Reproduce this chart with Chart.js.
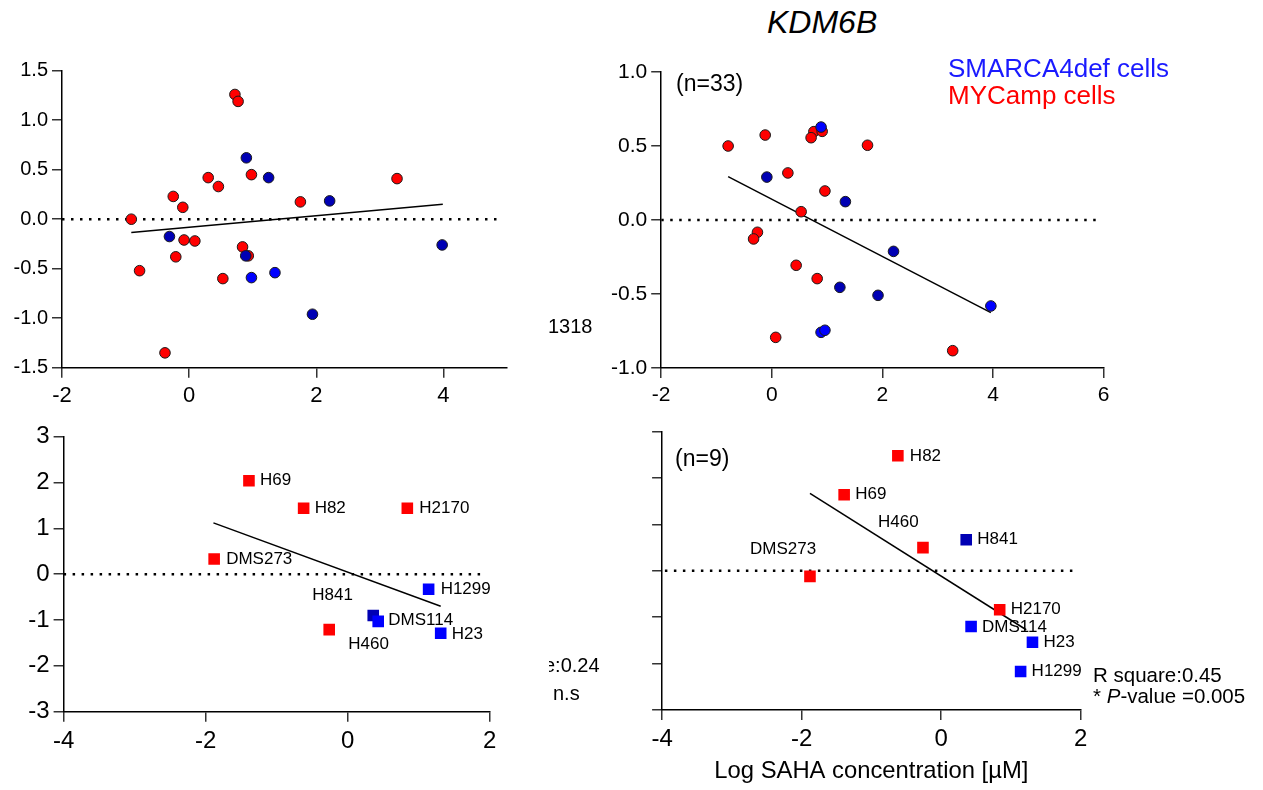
<!DOCTYPE html>
<html>
<head>
<meta charset="utf-8">
<script src="https://cdn.jsdelivr.net/npm/chart.js@4.4.1/dist/chart.umd.min.js"></script>
<style>
  body { margin: 0; background: #fff; width: 1263px; height: 790px; overflow: hidden; position: relative;
         font-family: "Liberation Sans", Arial, sans-serif; }
  canvas { position: absolute; }
  .t { position: absolute; white-space: nowrap; line-height: 1; color: #000; }
</style>
</head>
<body>
<canvas id="pA" width="540" height="370" style="left:0;top:50px"></canvas>
<canvas id="pB" width="540" height="370" style="left:590px;top:50px"></canvas>
<canvas id="pC" width="540" height="380" style="left:0;top:410px"></canvas>
<canvas id="pD" width="540" height="380" style="left:590px;top:410px"></canvas>

<div class="t" style="left:767px;top:6px;font-size:32px;font-style:italic">KDM6B</div>
<div class="t" style="left:676px;top:72px;font-size:23px">(n=33)</div>
<div class="t" style="left:948px;top:55px;font-size:26px;color:#1a1aff">SMARCA4def cells</div>
<div class="t" style="left:948px;top:82px;font-size:26px;color:#ff0000">MYCamp cells</div>
<div class="t" style="left:548px;top:316px;font-size:20px">1318</div>
<div class="t" style="left:549px;top:655px;width:52px;overflow:hidden;font-size:20px"><span style="margin-left:-5px">e:0.24</span></div>
<div class="t" style="left:553px;top:683px;font-size:20px">n.s</div>
<div class="t" style="left:675px;top:447px;font-size:23px">(n=9)</div>
<div class="t" style="left:1093px;top:665px;font-size:20.5px">R square:0.45</div>
<div class="t" style="left:1093px;top:686px;font-size:20.5px">* <i>P</i>-value =0.005</div>

<script>
// top left panel
const aRedX  = [-0.91, -0.78, -0.25, -0.10, -0.21, -0.08, 0.09, -0.38, 0.30, 0.46, 0.53, 0.72, 0.77, 0.98, 0.84, 0.93, 1.75, 3.27];
const aRedY  = [0.00, -0.52, 0.23, 0.12, -0.38, -0.21, -0.22, -1.35, 0.42, 0.33, -0.60, 1.26, 1.19, 0.45, -0.28, -0.37, 0.175, 0.41];
const aNavyX = [-0.31, 0.90, 1.25, 0.89, 1.94, 2.21, 3.98];
const aNavyY = [-0.175, 0.62, 0.42, -0.37, -0.96, 0.185, -0.26];
const aBlueX = [0.98, 1.35];
const aBlueY = [-0.59, -0.54];
const aFitX  = [-0.91, 3.99];
const aFitY  = [-0.135, 0.15];
const aZeroX = [-2, 4.9];

// top right panel
const bRedX  = [-0.79, -0.12, 0.29, 0.76, 0.71, 0.91, 1.73, 0.96, 0.53, -0.26, -0.33, 0.44, 0.82, 0.07, 3.27];
const bRedY  = [0.50, 0.574, 0.318, 0.597, 0.556, 0.599, 0.505, 0.196, 0.056, -0.083, -0.128, -0.306, -0.396, -0.793, -0.883];
const bNavyX = [-0.09, 1.33, 2.20, 1.23, 1.92];
const bNavyY = [0.29, 0.124, -0.212, -0.455, -0.509];
const bBlueX = [0.89, 3.96, 0.89, 0.96];
const bBlueY = [0.628, -0.581, -0.759, -0.745];
const bFitX  = [-0.79, 3.96];
const bFitY  = [0.293, -0.626];
const bZeroX = [-2, 5.9];

// bottom panels: cell lines vs log SAHA concentration
const cellLines = ['H69', 'H82', 'H2170', 'DMS273', 'H460', 'H1299', 'H841', 'DMS114', 'H23'];
const cellType  = ['MYCamp', 'MYCamp', 'MYCamp', 'MYCamp', 'MYCamp', 'SMARCA4def', 'SMARCA4def', 'SMARCA4def', 'SMARCA4def'];
const logSaha   = [-1.39, -0.62, 0.84, -1.88, -0.26, 1.14, 0.36, 0.43, 1.31];
const cValues   = [2.04, 1.44, 1.44, 0.33, -1.21, -0.33, -0.90, -1.03, -1.29];
const dValues   = [1.64, 2.48, -0.84, -0.12, 0.50, -2.17, 0.67, -1.20, -1.54];
const cFitX  = [-1.89, 1.31];
const cFitY  = [1.12, -0.70];
const cZeroX = [-4, 1.92];
const dFitX  = [-1.88, 1.22];
const dFitY  = [1.67, -1.27];
const dZeroX = [-3.96, 1.92];

const FONT = '"Liberation Sans", Arial, sans-serif';
const RED = '#ff0000', BLUE = '#0000ff', NAVY = '#0000b4';

// where each cell line name sits relative to its square: [dx, dy] in px
const cOffsets = { H69: [11, 0], H82: [11, 0], H2170: [12, 0], DMS273: [12, 0], H1299: [12, 0],
                   H841: [-61, -20], DMS114: [10, -1], H23: [11, 1], H460: [19, 15] };
const dOffsets = { H82: [12, 0], H69: [11, 0], H460: [-45, -25], H841: [11, 0], DMS273: [-60, -27],
                   H2170: [11, 0], DMS114: [11, 1], H23: [11, 0], H1299: [11, 0] };

let pts = function(xs, ys) {
    return xs.map((x, i) => ({x: x, y: ys[i]}));
};

let cellColor = function(name, i) {
    if (cellType[i] === 'MYCamp') return RED;
    return name === 'H841' ? NAVY : BLUE;
};

let labelPlugin = {
    id: 'cellLabels',
    afterDatasetsDraw(chart, args, opts) {
        if (!opts.offsets) return;
        const ctx = chart.ctx;
        ctx.save();
        ctx.font = opts.size + 'px ' + FONT;
        ctx.fillStyle = '#000';
        ctx.textBaseline = 'middle';
        ctx.textAlign = 'left';
        chart.data.datasets.forEach((ds, di) => {
            if (!ds.names) return;
            chart.getDatasetMeta(di).data.forEach((el, i) => {
                const off = opts.offsets[ds.names[i]];
                ctx.fillText(ds.names[i], el.x + off[0], el.y + off[1]);
            });
        });
        ctx.restore();
    }
};

let dots = function(xs, ys, color) {
    return { data: pts(xs, ys), backgroundColor: color, borderColor: '#1a1a1a', borderWidth: 1, pointRadius: 5.3 };
};

let fitLine = function(xs, ys) {
    return { data: pts(xs, ys), showLine: true, borderColor: '#000', borderWidth: 1.5, pointRadius: 0 };
};

let zeroLine = function(xs) {
    return { data: pts(xs, [0, 0]), showLine: true, borderColor: '#000', borderWidth: 2.5,
             borderDash: [2.5, 6.5], pointRadius: 0 };
};

let cells = function(values) {
    return { data: pts(logSaha, values), names: cellLines, pointStyle: 'rect', pointRadius: 8.2,
             borderWidth: 0, backgroundColor: cellLines.map(cellColor) };
};

let makePanel = function(id, c) {
    const tickGrid = { drawOnChartArea: false, drawTicks: true, tickLength: 10, color: '#333', lineWidth: 1.5 };
    return new Chart(document.getElementById(id), {
        type: 'scatter',
        data: { datasets: c.datasets },
        plugins: [labelPlugin],
        options: {
            responsive: false,
            animation: false,
            devicePixelRatio: 1,
            events: [],
            layout: { padding: { top: c.padTop, right: c.padRight, left: 0, bottom: 0 } },
            plugins: {
                legend: { display: false },
                tooltip: { enabled: false },
                cellLabels: { offsets: c.offsets, size: 17 }
            },
            scales: {
                x: {
                    type: 'linear', min: c.xMin, max: c.xMax,
                    afterFit: s => { s.height = c.xHeight; },
                    ticks: { stepSize: 2, includeBounds: false, color: '#000', padding: 5, maxRotation: 0,
                             font: { family: FONT, size: c.xFont } },
                    grid: tickGrid,
                    border: { color: '#000', width: 1.5 },
                    title: c.xTitle ? { display: true, text: c.xTitle, color: '#000',
                                        font: { family: FONT, size: 23.8 }, padding: { top: 0, bottom: 4 } }
                                    : { display: false }
                },
                y: {
                    type: 'linear', min: c.yMin, max: c.yMax,
                    afterFit: s => { s.width = c.yWidth; },
                    ticks: { stepSize: c.yStep, display: c.yLabels, color: '#000', padding: 4,
                             font: { family: FONT, size: c.yFont }, callback: c.yFormat },
                    grid: tickGrid,
                    border: { color: '#000', width: 1.5 }
                }
            }
        }
    });
};

const oneDecimal = v => v.toFixed(1);
const integer = v => String(v);

makePanel('pA', {
    xMin: -2, xMax: 5, yMin: -1.5, yMax: 1.5, yStep: 0.5, yLabels: true, yFormat: oneDecimal,
    yWidth: 62, xHeight: 52.3, padTop: 20.7, padRight: 33, xFont: 22, yFont: 20,
    datasets: [dots(aBlueX, aBlueY, BLUE), dots(aNavyX, aNavyY, NAVY), dots(aRedX, aRedY, RED),
               fitLine(aFitX, aFitY), zeroLine(aZeroX)]
});

makePanel('pB', {
    xMin: -2, xMax: 6, yMin: -1, yMax: 1, yStep: 0.5, yLabels: true, yFormat: oneDecimal,
    yWidth: 71.2, xHeight: 52, padTop: 22, padRight: 26.3, xFont: 21, yFont: 21,
    datasets: [dots(bBlueX, bBlueY, BLUE), dots(bNavyX, bNavyY, NAVY), dots(bRedX, bRedY, RED),
               fitLine(bFitX, bFitY), zeroLine(bZeroX)]
});

makePanel('pC', {
    xMin: -4, xMax: 2, yMin: -3, yMax: 3, yStep: 1, yLabels: true, yFormat: integer,
    yWidth: 63.6, xHeight: 78.3, padTop: 26.7, padRight: 50.3, xFont: 24, yFont: 24,
    offsets: cOffsets,
    datasets: [cells(cValues), fitLine(cFitX, cFitY), zeroLine(cZeroX)]
});

makePanel('pD', {
    xMin: -4, xMax: 2, yMin: -3, yMax: 3, yStep: 1, yLabels: false, yFormat: integer,
    yWidth: 72.1, xHeight: 80, padTop: 21.7, padRight: 49.4, xFont: 24, yFont: 24,
    offsets: dOffsets, xTitle: 'Log SAHA concentration [µM]',
    datasets: [cells(dValues), fitLine(dFitX, dFitY), zeroLine(dZeroX)]
});
</script>
</body>
</html>
